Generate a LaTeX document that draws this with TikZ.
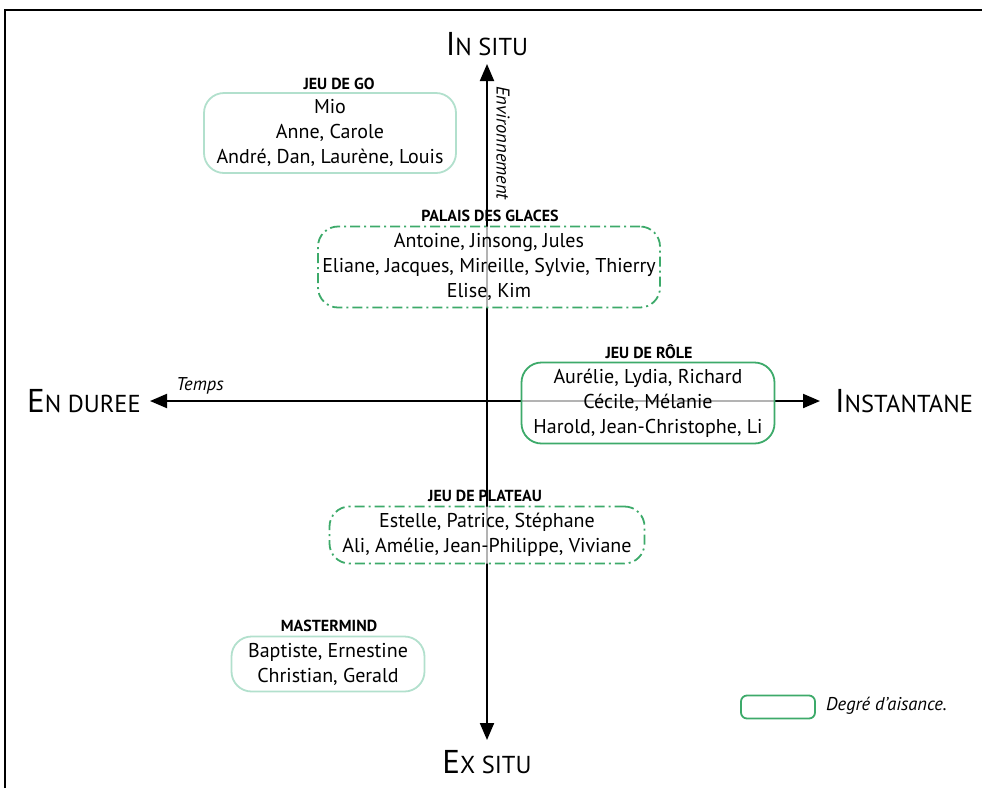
\documentclass[tikz,border=0pt]{standalone}
\usepackage{fontspec}
\setmainfont{PT Sans}
\usetikzlibrary{arrows.meta}
\definecolor{mint}{HTML}{B2E0CD}
\definecolor{leaf}{HTML}{3DAA6A}
\newcommand\namesfont{\fontsize{20}{25}\selectfont}
\newcommand\titlefont{\fontsize{16}{18}\selectfont\bfseries}
\newcommand\notefont{\fontsize{18.5}{20}\selectfont\itshape}
\newcommand\polelabel[2]{{\fontsize{33}{33}\selectfont #1}{\fontsize{24.5}{24.5}\selectfont #2}}
\tikzset{
  axis/.style={line width=2pt, {Triangle[length=17pt,width=14pt]}-{Triangle[length=17pt,width=14pt]}},
  group/.style={rounded corners=20pt, line width=1.8pt, fill=white, fill opacity=0.7, text opacity=1,
    inner sep=0pt, align=center, font=\namesfont},
  easy/.style={group, draw=mint},
  firm/.style={group, draw=leaf},
  loose/.style={group, draw=leaf, dash pattern=on 10pt off 4pt on 2pt off 4pt},
  gtitle/.style={font=\titlefont, inner sep=0pt},
  pole/.style={inner sep=0pt},
  note/.style={font=\notefont, inner sep=0pt}
}
\begin{document}
\begin{tikzpicture}[x=1pt,y=-1pt]
\useasboundingbox (0,0) rectangle (982,788);
% frame
\draw[line width=2pt] (5,788) -- (5,10) -- (982,10);

% axes
\coordinate (top) at (487,64);
\coordinate (bottom) at (487,740);
\coordinate (left) at (150,401);
\coordinate (right) at (820,401);
\draw[axis] (bottom) -- (top);
\draw[axis] (left) -- (right);

\node[pole] (insitu) at (487,44) {\polelabel{I}{N SITU}};
\node[pole] (exsitu) at (487,762) {\polelabel{E}{X SITU}};
\node[pole] (duree) at (84,401) {\polelabel{E}{N DUREE}};
\node[pole] (instant) at (904,401) {\polelabel{I}{NSTANTANE}};

\node[note, rotate=-90] (env) at (503,143) {Environnement};
\node[note] (temps) at (200,386) {Temps};

% groups
\node[easy, minimum width=252pt, minimum height=80pt] (go) at (330,133)
  {Mio\\Anne, Carole\\André, Dan, Laurène, Louis};
\node[gtitle] (gotitle) at (339,84) {JEU DE GO};

\node[loose, minimum width=342pt, minimum height=81pt] (palais) at (489,267)
  {Antoine, Jinsong, Jules\\Eliane, Jacques, Mireille, Sylvie, Thierry\\Elise, Kim};
\node[gtitle] (palaistitle) at (490,216) {PALAIS DES GLACES};

\node[firm, minimum width=253pt, minimum height=81pt] (role) at (648,403)
  {Aurélie, Lydia, Richard\\Cécile, Mélanie\\Harold, Jean-Christophe, Li};
\node[gtitle] (roletitle) at (649,352) {JEU DE RÔLE};

\node[loose, minimum width=315pt, minimum height=57pt] (plateau) at (487,535)
  {Estelle, Patrice, Stéphane\\Ali, Amélie, Jean-Philippe, Viviane};
\node[gtitle] (plateautitle) at (485,496) {JEU DE PLATEAU};

\node[easy, minimum width=193pt, minimum height=55pt] (master) at (328,664)
  {Baptiste, Ernestine\\Christian, Gerald};
\node[gtitle] (mastertitle) at (329,626) {MASTERMIND};

% legend
\node[draw=leaf, line width=1.8pt, rounded corners=6pt, minimum width=74pt, minimum height=23pt, inner sep=0pt] (legbox) at (778,707) {};
\node[note, anchor=west] (legtext) at (826,706) {Degré d'aisance.};
\end{tikzpicture}
\end{document}
